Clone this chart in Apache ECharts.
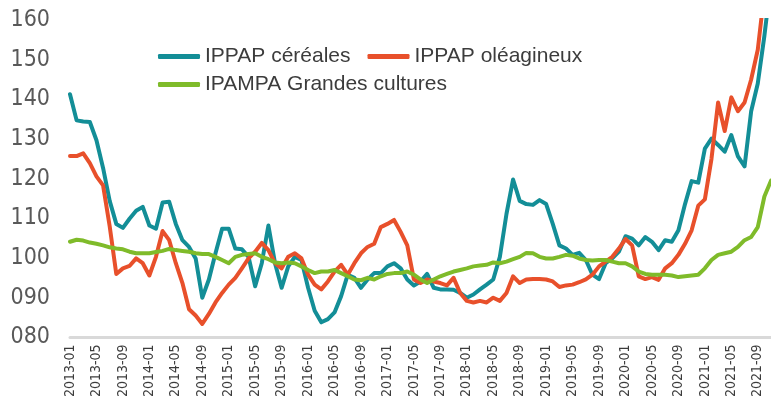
<!DOCTYPE html>
<html>
<head>
<meta charset="utf-8">
<script src="https://cdn.jsdelivr.net/npm/echarts@6/dist/echarts.min.js"></script>
<style>
  html, body { margin: 0; padding: 0; background: #fff; }
  #chart { width: 771px; height: 400px; }
</style>
</head>
<body>
<div id="chart"></div>
<script>
// months 2013-01 .. 2021-11
const months = []
for (let y = 2013; y <= 2021; y++) {
  for (let m = 1; m <= 12; m++) {
    if (y === 2021 && m > 11) break
    months.push(y + '-' + String(m).padStart(2, '0'))
  }
}

const cereales = [
  141.3, 134.7, 134.4, 134.3, 129.7, 122.7, 114.4, 108.6, 107.6, 109.9, 111.9, 112.9,
  108.2, 107.4, 114.0, 114.2, 108.6, 104.5, 102.8, 99.9, 90.0, 94.6, 101.2, 107.4,
  107.4, 102.4, 102.2, 100.3, 92.9, 98.7, 108.2, 98.7, 92.5, 97.9, 100.3, 99.5,
  92.5, 86.7, 83.8, 84.6, 86.3, 90.4, 95.8, 95.0, 92.5, 94.6, 96.2, 96.2,
  97.9, 98.7, 97.4, 94.6, 93.1, 94.1, 96.0, 92.5, 92.1, 92.1, 92.0, 91.2,
  90.0, 90.8, 92.1, 93.3, 94.6, 100.3, 111.1, 119.8, 114.4, 113.6, 113.4, 114.6,
  113.6, 108.6, 103.2, 102.4, 100.8, 101.3, 99.5, 95.8, 94.7, 98.7, 99.9, 101.6,
  105.5, 104.9, 103.2, 105.3, 104.1, 102.0, 104.5, 104.1, 107.0, 113.6, 119.4, 119.0,
  127.6, 130.1, 128.5, 126.8, 131.0, 125.6, 123.1, 137.0, 144.0, 156.0, 170.0
]

const oleagineux = [
  125.7, 125.7, 126.4, 123.9, 120.6, 118.3, 108.0, 96.0, 97.4, 98.0, 99.9, 98.7,
  95.6, 100.3, 106.8, 104.5, 98.7, 93.7, 87.1, 85.5, 83.4, 85.9, 88.8, 91.2,
  93.3, 95.0, 97.4, 99.9, 101.6, 103.8, 102.0, 98.7, 97.4, 100.3, 101.2, 99.9,
  95.8, 93.3, 92.1, 94.1, 96.6, 98.3, 95.8, 98.7, 101.2, 102.8, 103.6, 107.8,
  108.6, 109.6, 106.6, 103.2, 94.6, 93.7, 94.6, 94.1, 93.7, 93.1, 95.0, 91.2,
  89.2, 88.8, 89.2, 88.8, 90.0, 89.2, 91.2, 95.4, 93.7, 94.6, 94.7, 94.7,
  94.6, 94.1, 92.7, 93.1, 93.3, 93.9, 94.6, 95.8, 97.9, 99.1, 100.3, 102.4,
  104.8, 103.2, 95.4, 94.7, 95.2, 94.5, 97.4, 98.7, 100.8, 103.6, 107.0, 113.2,
  114.8, 125.0, 139.2, 132.0, 140.5, 137.0, 139.2, 145.0, 152.5, 167.0, 180.0
]

const grandesCultures = [
  104.1, 104.6, 104.4, 103.9, 103.6, 103.2, 102.7, 102.4, 102.2, 101.6, 101.2, 101.2,
  101.2, 101.5, 101.8, 102.3, 102.0, 101.8, 101.6, 101.2, 101.0, 101.0, 100.3, 99.5,
  98.7, 100.3, 100.8, 101.0, 101.2, 100.3, 99.7, 98.9, 98.7, 98.9, 98.7, 97.9,
  97.0, 96.2, 96.6, 96.6, 97.0, 96.2, 95.4, 94.6, 94.4, 95.0, 94.6, 95.4,
  96.0, 96.2, 96.2, 96.6, 95.8, 94.6, 93.7, 94.6, 95.4, 96.0, 96.6, 97.0,
  97.4, 97.9, 98.1, 98.3, 98.9, 98.7, 99.1, 99.7, 100.3, 101.3, 101.2, 100.3,
  99.9, 99.9, 100.3, 100.8, 100.6, 99.9, 99.5, 99.4, 99.5, 99.5, 99.1, 98.7,
  98.7, 97.9, 96.6, 96.0, 95.8, 95.8, 95.8, 95.6, 95.2, 95.4, 95.6, 95.8,
  97.4, 99.5, 100.8, 101.2, 101.6, 102.8, 104.5, 105.3, 107.8, 115.5, 119.5
]

const seriesNames = ['IPPAP céréales', 'IPPAP oléagineux', 'IPAMPA Grandes cultures']
const colors = ['#138e97', '#e8502b', '#7fbb2a']

const chart = echarts.init(document.getElementById('chart'))

const legendText = { fontSize: 21, color: '#3c3c3c', fontFamily: 'Liberation Sans' }

chart.setOption({
  animation: false,
  grid: { left: 70, right: -1, top: 20, bottom: 58 },
  legend: [
    {
      data: seriesNames.slice(0, 2),
      left: 153, top: 41,
      icon: 'roundRect', itemWidth: 42, itemHeight: 5, itemGap: 17,
      textStyle: legendText
    },
    {
      data: seriesNames.slice(2),
      left: 153, top: 69,
      icon: 'roundRect', itemWidth: 42, itemHeight: 5,
      textStyle: legendText
    }
  ],
  xAxis: {
    type: 'category',
    data: months,
    boundaryGap: false,
    axisLine: { lineStyle: { color: '#d9d9d9', width: 3 } },
    axisTick: { show: false },
    axisLabel: {
      interval: 3,
      rotate: 90,
      margin: 7,
      fontSize: 14,
      color: '#3c3c3c',
      fontFamily: 'Liberation Sans Narrow, DejaVu Sans Condensed, sans-serif'
    },
    splitLine: { show: false }
  },
  yAxis: {
    type: 'value',
    min: 80,
    max: 160,
    interval: 10,
    axisLine: { show: false },
    axisTick: { show: false },
    splitLine: { show: false },
    axisLabel: {
      margin: 20,
      fontSize: 23,
      color: '#595959',
      fontFamily: 'Liberation Sans Narrow, DejaVu Sans Condensed, sans-serif',
      formatter: v => String(v).padStart(3, '0')
    }
  },
  series: [cereales, oleagineux, grandesCultures].map((d, i) => ({
    name: seriesNames[i],
    type: 'line',
    data: d,
    showSymbol: false,
    color: colors[i],
    lineStyle: { width: 4, color: colors[i], join: 'round', cap: 'round' }
  }))
})
</script>
</body>
</html>
